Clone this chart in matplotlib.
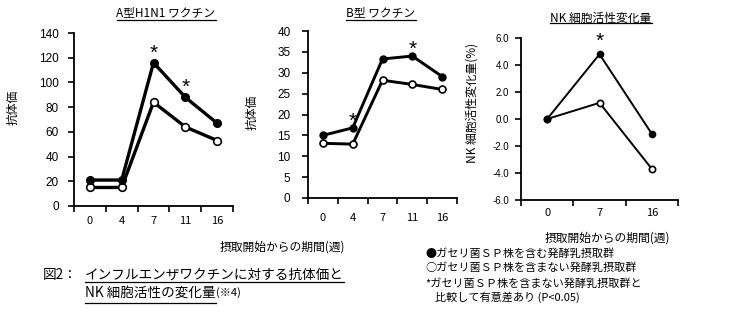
import matplotlib.pyplot as plt
from matplotlib.lines import Line2D

plt.rcParams['font.family'] = ['Noto Sans CJK JP', 'DejaVu Sans']
plt.rcParams['axes.unicode_minus'] = False

# 抗体価 (A型H1N1, B型) と NK 細胞活性変化量
weeks_ab = ['0', '4', '7', '11', '16']
a_sp = [21, 21, 116, 88, 67]
a_ctrl = [15, 15, 84, 64, 53]
a_sig = [False, False, True, True, False]

b_sp = [15.0, 16.8, 33.3, 34.0, 29.1]
b_ctrl = [13.1, 12.9, 28.2, 27.2, 26.0]
b_sig = [False, True, False, True, False]

weeks_nk = ['0', '7', '16']
nk_sp = [0.0, 4.8, -1.1]
nk_ctrl = [0.0, 1.2, -3.7]
nk_sig = [False, True, False]

a_yticks = list(range(0, 141, 20))
b_yticks = list(range(0, 41, 5))
nk_yticks = [-6.0, -4.0, -2.0, 0.0, 2.0, 4.0, 6.0]

W, H = 735, 324
fig = plt.figure(figsize=(W / 100, H / 100), dpi=100)


def px_axes(l, t, r, b):
    return fig.add_axes([l / W, 1 - b / H, (r - l) / W, (b - t) / H])


def ftext(x, y, s, **kw):
    return fig.text(x / W, 1 - y / H, s, **kw)


def panel(ax, labels, sp, ctrl, sig, yticks, fmt, lw, ms, star_off,
          ysize, xpad, ypad):
    x = list(range(len(labels)))
    ax.plot(x, ctrl, '-o', color='black', lw=lw, ms=ms, mfc='white',
            mec='black', mew=1.2, clip_on=False, zorder=3)
    ax.plot(x, sp, '-o', color='black', lw=lw, ms=ms, mfc='black',
            mec='black', clip_on=False, zorder=4)
    for i, s in enumerate(sig):
        if s:
            ax.annotate('*', (i, sp[i]), xytext=(0, star_off),
                        textcoords='offset points', ha='center',
                        va='center', fontsize=15, family='Liberation Sans')
    ax.set_xlim(-0.5, len(labels) - 0.5)
    ax.set_ylim(yticks[0], yticks[-1])
    ax.set_yticks(yticks)
    ax.set_yticklabels([fmt.format(v) for v in yticks],
                       family='Liberation Sans', fontsize=ysize)
    ax.set_xticks(x)
    ax.set_xticklabels(labels, fontsize=8)
    ax.set_xticks([i - 0.5 for i in range(len(labels) + 1)], minor=True)
    ax.tick_params(axis='x', which='major', length=0, pad=xpad)
    ax.tick_params(axis='x', which='minor', length=4, width=1.2)
    ax.tick_params(axis='y', length=4, width=1.2, pad=ypad)
    for s in ['top', 'right']:
        ax.spines[s].set_visible(False)
    for s in ['left', 'bottom']:
        ax.spines[s].set_linewidth(1.3)


ax1 = px_axes(74, 33, 233, 206)
panel(ax1, weeks_ab, a_sp, a_ctrl, a_sig, a_yticks, '{:d}', 2.4, 5.5, 7,
      8.5, 7.5, 7)

ax2 = px_axes(308, 31, 457, 198)
panel(ax2, weeks_ab, b_sp, b_ctrl, b_sig, b_yticks, '{:d}', 2.1, 5, 5,
      8.5, 11, 8.6)

ax3 = px_axes(521, 38, 678, 200)
panel(ax3, weeks_nk, nk_sp, nk_ctrl, nk_sig, nk_yticks, '{:.1f}', 1.4, 4.5,
      9, 7, 6, 4.7)

# titles and axis labels
titles = [
    ftext(166, 13, 'A型H1N1 ワクチン', ha='center', va='center', fontsize=8.5),
    ftext(381, 13, 'B型 ワクチン', ha='center', va='center', fontsize=8.5),
    ftext(601, 18, 'NK 細胞活性変化量', ha='center', va='center', fontsize=8.5),
]
title_under = [20, 20, 23]

ftext(13, 107, '抗体価', ha='center', va='center', rotation=90, fontsize=8.5)
ftext(252, 112, '抗体価', ha='center', va='center', rotation=90, fontsize=8.5)
ftext(472, 103, 'NK 細胞活性変化量(%)', ha='center', va='center',
      rotation=90, fontsize=8.5)

ftext(345, 247, '摂取開始からの期間(週)', ha='right', va='center', fontsize=8.5)
ftext(670, 238, '摂取開始からの期間(週)', ha='right', va='center', fontsize=8.5)

# legend notes
ftext(425, 254, '●ガセリ菌ＳＰ株を含む発酵乳摂取群', va='center', fontsize=8)
ftext(425, 268, '○ガセリ菌ＳＰ株を含まない発酵乳摂取群', va='center', fontsize=8)
ftext(425, 284, '*ガセリ菌ＳＰ株を含まない発酵乳摂取群と', va='center', fontsize=8)
ftext(435, 297, '比較して有意差あり (P<0.05)', va='center', fontsize=8)

# caption
ftext(43, 275, '図2：', va='center', fontsize=9.8)
cap1 = ftext(85, 275, 'インフルエンザワクチンに対する抗体価と', va='center',
             fontsize=9.8)
cap2 = ftext(85, 293, 'NK 細胞活性の変化量', va='center', fontsize=9.8)

fig.canvas.draw()
r = fig.canvas.get_renderer()


def underline(t, y):
    bb = t.get_window_extent(r)
    fig.add_artist(Line2D([bb.x0 / W, bb.x1 / W], [1 - y / H, 1 - y / H],
                          color='black', lw=0.9))
    return bb


for t, y in zip(titles, title_under):
    underline(t, y)
underline(cap1, 282)
bb = underline(cap2, 303)
fig.text(bb.x1 / W, 1 - 293 / H, '(※4)', va='center', fontsize=8)

fig.savefig('out.png', dpi=100, facecolor='white')
